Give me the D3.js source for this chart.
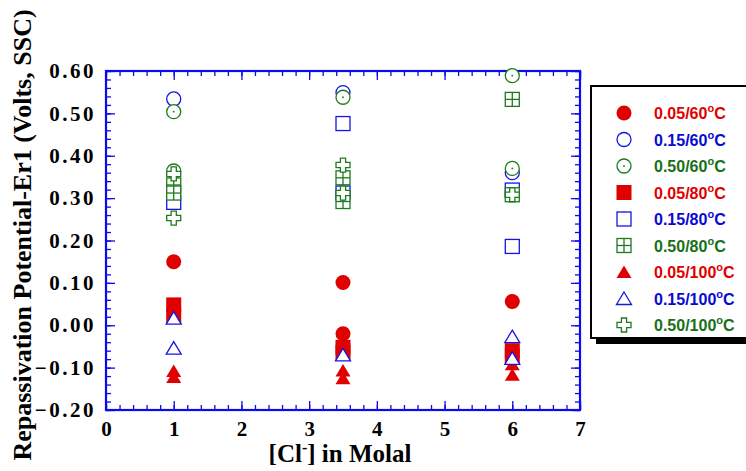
<!DOCTYPE html>
<html>
<head>
<meta charset="utf-8">
<script src="https://cdn.jsdelivr.net/npm/d3@7"></script>
<style>
  body { margin: 0; background: #fff; }
  svg { display: block; }
</style>
</head>
<body>
<div id="chart"></div>
<script>
// Data: [Cl-] molality, Er1 (V vs SSC)
var xTicks = [0, 1, 2, 3, 4, 5, 6, 7];
var yTicks = [-0.20, -0.10, 0.00, 0.10, 0.20, 0.30, 0.40, 0.50, 0.60];

var seriesNames = ["0.05/60", "0.15/60", "0.50/60", "0.05/80", "0.15/80", "0.50/80", "0.05/100", "0.15/100", "0.50/100"];

var s005_60  = [[1, 0.150], [3.5, 0.101], [3.5, -0.020], [6, 0.056]];
var s015_60  = [[1, 0.534], [3.5, 0.549], [6, 0.360]];
var s050_60  = [[1, 0.504], [1, 0.364], [3.5, 0.538], [6, 0.589], [6, 0.370]];
var s005_80  = [[1, 0.048], [1, 0.022], [3.5, -0.052], [3.5, -0.064], [6, -0.060], [6, -0.072]];
var s015_80  = [[1, 0.290], [3.5, 0.476], [3.5, 0.312], [6, 0.319], [6, 0.186]];
var s050_80  = [[1, 0.331], [1, 0.312], [3.5, 0.348], [3.5, 0.292], [6, 0.533], [6, 0.308]];
var s005_100 = [[1, -0.108], [1, -0.122], [3.5, -0.107], [3.5, -0.125], [6, -0.092], [6, -0.117]];
var s015_100 = [[1, 0.017], [1, -0.054], [3.5, -0.070], [6, -0.027], [6, -0.078]];
var s050_100 = [[1, 0.357], [1, 0.253], [3.5, 0.378], [3.5, 0.312], [6, 0.308]];

var seriesData = [s005_60, s015_60, s050_60, s005_80, s015_80, s050_80, s005_100, s015_100, s050_100];

// styles
var RED = "#e00000", BLUE = "#1414e6", GREEN = "#1e7a1e";
var seriesColors = [RED, BLUE, GREEN, RED, BLUE, GREEN, RED, BLUE, GREEN];
var textColors = ["#e00000", "#0a0ad2", "#177017", "#e00000", "#0a0ad2", "#177017", "#e00000", "#0a0ad2", "#177017"];
var seriesShapes = ["circleFill", "circle", "circleDot", "squareFill", "square", "squareGrid", "triFill", "tri", "cross"];

var width = 746, height = 471;
var pLeft = 106, pRight = 580, pTop = 71, pBottom = 410;
var axisColor = "#0a0aee";

var svg = d3.select("#chart").append("svg")
    .attr("width", width)
    .attr("height", height);

var xScale = d3.scaleLinear().domain([0, 7]).range([pLeft, pRight]);
var yScale = d3.scaleLinear().domain([-0.2, 0.6]).range([pBottom, pTop]);

var serif = "'Liberation Serif', 'Times New Roman', serif";
var sans = "'Liberation Sans', Arial, sans-serif";

// minor ticks
var xMinor = d3.range(0, 7.001, 0.2);
var yMinor = d3.range(-0.2, 0.601, 0.02);

function styleAxis(g) {
    g.select(".domain").remove();
    g.selectAll("line").attr("stroke", axisColor).attr("stroke-width", 1.3);
}

// bottom
svg.append("g").attr("transform", "translate(0," + pBottom + ")")
    .call(d3.axisBottom(xScale).tickValues(xMinor).tickSize(-5).tickFormat(""))
    .call(styleAxis);
svg.append("g").attr("transform", "translate(0," + pBottom + ")")
    .call(d3.axisBottom(xScale).tickValues(xTicks).tickSize(-9).tickPadding(11).tickFormat(d3.format("d")))
    .call(styleAxis)
    .selectAll("text")
    .attr("fill", "#000")
    .style("font-family", serif).style("font-weight", "bold").style("font-size", "21px");

// top
svg.append("g").attr("transform", "translate(0," + pTop + ")")
    .call(d3.axisTop(xScale).tickValues(xMinor).tickSize(-5).tickFormat(""))
    .call(styleAxis);
svg.append("g").attr("transform", "translate(0," + pTop + ")")
    .call(d3.axisTop(xScale).tickValues(xTicks).tickSize(-9).tickFormat(""))
    .call(styleAxis);

// left
svg.append("g").attr("transform", "translate(" + pLeft + ",0)")
    .call(d3.axisLeft(yScale).tickValues(yMinor).tickSize(-5).tickFormat(""))
    .call(styleAxis);
svg.append("g").attr("transform", "translate(" + pLeft + ",0)")
    .call(d3.axisLeft(yScale).tickValues(yTicks).tickSize(-9).tickPadding(10).tickFormat(d3.format(".2f")))
    .call(styleAxis)
    .selectAll("text")
    .attr("fill", "#000")
    .style("letter-spacing", "2.5px")
    .style("font-family", serif).style("font-weight", "bold").style("font-size", "21px");

// right
svg.append("g").attr("transform", "translate(" + pRight + ",0)")
    .call(d3.axisRight(yScale).tickValues(yMinor).tickSize(-5).tickFormat(""))
    .call(styleAxis);
svg.append("g").attr("transform", "translate(" + pRight + ",0)")
    .call(d3.axisRight(yScale).tickValues(yTicks).tickSize(-9).tickFormat(""))
    .call(styleAxis);

// frame
svg.append("rect")
    .attr("x", pLeft).attr("y", pTop)
    .attr("width", pRight - pLeft).attr("height", pBottom - pTop)
    .attr("fill", "none").attr("stroke", axisColor).attr("stroke-width", 2.2);

// marker drawing
function drawMarker(g, shape, cx, cy, color) {
    var s = 7.5, sw = 1.3;
    if (shape === "circleFill") {
        g.append("circle").attr("cx", cx).attr("cy", cy).attr("r", 7.5).attr("fill", color);
    } else if (shape === "circle" || shape === "circleDot") {
        g.append("circle").attr("cx", cx).attr("cy", cy).attr("r", 7)
            .attr("fill", "#fff").attr("stroke", color).attr("stroke-width", sw);
        if (shape === "circleDot")
            g.append("circle").attr("cx", cx).attr("cy", cy).attr("r", 0.9).attr("fill", color);
    } else if (shape === "squareFill") {
        g.append("rect").attr("x", cx - s).attr("y", cy - s).attr("width", 2 * s).attr("height", 2 * s).attr("fill", color);
    } else if (shape === "square" || shape === "squareGrid") {
        g.append("rect").attr("x", cx - 7).attr("y", cy - 7).attr("width", 14).attr("height", 14)
            .attr("fill", "#fff").attr("stroke", color).attr("stroke-width", sw);
        if (shape === "squareGrid") {
            g.append("line").attr("x1", cx).attr("x2", cx).attr("y1", cy - 7).attr("y2", cy + 7)
                .attr("stroke", color).attr("stroke-width", sw);
            g.append("line").attr("x1", cx - 7).attr("x2", cx + 7).attr("y1", cy).attr("y2", cy)
                .attr("stroke", color).attr("stroke-width", sw);
        }
    } else if (shape === "triFill" || shape === "tri") {
        var p = "M" + cx + "," + (cy - 6.5) + "L" + (cx + 7.5) + "," + (cy + 6) + "L" + (cx - 7.5) + "," + (cy + 6) + "Z";
        if (shape === "triFill") g.append("path").attr("d", p).attr("fill", color);
        else g.append("path").attr("d", p).attr("fill", "#fff").attr("stroke", color).attr("stroke-width", sw);
    } else if (shape === "cross") {
        var a = 2.6, b = 7;
        var pts = [[-a, -b], [a, -b], [a, -a], [b, -a], [b, a], [a, a], [a, b], [-a, b], [-a, a], [-b, a], [-b, -a], [-a, -a]];
        g.append("path")
            .attr("d", "M" + pts.map(function (q) { return (cx + q[0]) + "," + (cy + q[1]); }).join("L") + "Z")
            .attr("fill", "#fff").attr("stroke", color).attr("stroke-width", sw);
    }
}

// points
var marks = svg.append("g");
seriesData.forEach(function (data, i) {
    var g = marks.append("g").attr("class", "series");
    data.forEach(function (d) {
        drawMarker(g, seriesShapes[i], xScale(d[0]), yScale(d[1]), seriesColors[i]);
    });
});

// legend
var legend = svg.append("g");
legend.append("rect").attr("x", 596).attr("y", 92).attr("width", 170).attr("height", 252).attr("fill", "#000");
legend.append("rect").attr("x", 591).attr("y", 86).attr("width", 170).attr("height", 252)
    .attr("fill", "#fff").attr("stroke", "#000").attr("stroke-width", 2);

seriesNames.forEach(function (name, i) {
    var cy = 113 + i * 26.5;
    drawMarker(legend, seriesShapes[i], 624, cy, seriesColors[i]);
    var t = legend.append("text")
        .attr("x", 654).attr("y", cy + 6)
        .attr("fill", textColors[i])
        .style("font-family", sans).style("font-weight", "bold").style("font-size", "16px");
    t.append("tspan").text(name);
    t.append("tspan").attr("dy", -7).style("font-size", "11px").text("o");
    t.append("tspan").attr("dy", 7).text("C");
});

// axis titles
var xt = svg.append("text")
    .attr("x", 340).attr("y", 462)
    .attr("text-anchor", "middle")
    .style("font-family", serif).style("font-weight", "bold").style("font-size", "25px");
xt.append("tspan").text("[Cl");
xt.append("tspan").attr("dy", -9).style("font-size", "16px").text("-");
xt.append("tspan").attr("dy", 9).text("] in Molal");

svg.append("text")
    .attr("transform", "translate(31,235) rotate(-90)")
    .attr("text-anchor", "middle")
    .style("font-family", serif).style("font-weight", "bold").style("font-size", "26px")
    .text("Repassivation Potential-Er1 (Volts, SSC)");
</script>
</body>
</html>
